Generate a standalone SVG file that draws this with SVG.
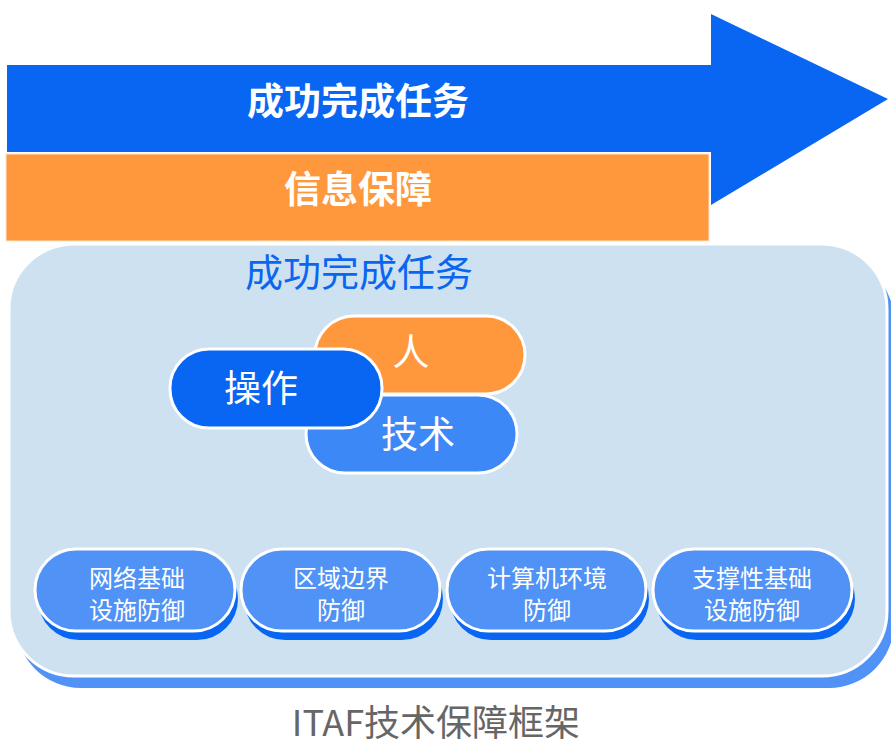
<svg xmlns="http://www.w3.org/2000/svg" width="891" height="747" viewBox="0 0 891 747">
<style>
text{font-family:"Noto Sans CJK SC","Noto Sans",sans-serif;text-anchor:middle}
.w{fill:#fff}
.b{font-weight:bold}
.pill{stroke:#fff;stroke-width:3}
.sm{fill:#fff;font-size:24px}
</style>
<rect width="891" height="747" fill="#fff"/>
<g id="arrow">
<polygon points="7,65 711,65 711,14 888,99 711,205 711,152 7,152" fill="#0866F2"/>
<text x="358" y="115" class="w b" font-size="37">成功完成任务</text>
</g>
<g id="info">
<rect x="6" y="154" width="703" height="87" fill="#FF983C" stroke="#FFE6CC" stroke-width="1"/>
<text x="358" y="203" class="w b" font-size="37">信息保障</text>
</g>
<g id="panel">
<rect x="16" y="256" width="878" height="432" rx="65" fill="#5092F5"/>
<rect x="9" y="244" width="878" height="432" rx="65" fill="#CDE1F1" stroke="#fff" stroke-width="3"/>
<text x="359" y="286" font-size="38" fill="#0A66F0">成功完成任务</text>
</g>
<g id="people">
<rect x="315" y="316" width="210" height="78" rx="39" class="pill" fill="#FF983C"/>
<text x="411" y="366" class="w" font-size="37">人</text>
</g>
<g id="tech">
<rect x="306" y="395" width="211" height="78" rx="39" class="pill" fill="#3D88F7"/>
<text x="418" y="448" class="w" font-size="37">技术</text>
</g>
<g id="ops">
<rect x="170" y="349" width="212" height="79" rx="39" class="pill" fill="#0866F2"/>
<text x="261" y="402" class="w" font-size="37">操作</text>
</g>
<g id="d1">
<rect x="38" y="558" width="200" height="82" rx="41" fill="#0866F2"/>
<rect x="35" y="549" width="200" height="82" rx="41" class="pill" fill="#5092F5"/>
<text x="137" y="587" class="sm">网络基础</text>
<text x="137" y="619" class="sm">设施防御</text>
</g>
<g id="d2">
<rect x="244" y="558" width="199" height="82" rx="41" fill="#0866F2"/>
<rect x="241" y="549" width="199" height="82" rx="41" class="pill" fill="#5092F5"/>
<text x="341" y="587" class="sm">区域边界</text>
<text x="341" y="619" class="sm">防御</text>
</g>
<g id="d3">
<rect x="450" y="558" width="199" height="82" rx="41" fill="#0866F2"/>
<rect x="447" y="549" width="199" height="82" rx="41" class="pill" fill="#5092F5"/>
<text x="547" y="587" class="sm">计算机环境</text>
<text x="547" y="619" class="sm">防御</text>
</g>
<g id="d4">
<rect x="656" y="558" width="199" height="82" rx="41" fill="#0866F2"/>
<rect x="653" y="549" width="199" height="82" rx="41" class="pill" fill="#5092F5"/>
<text x="752" y="587" class="sm">支撑性基础</text>
<text x="752" y="619" class="sm">设施防御</text>
</g>
<g id="connectors"/>
<text x="436" y="736" font-size="36" fill="#666">ITAF技术保障框架</text>
</svg>
